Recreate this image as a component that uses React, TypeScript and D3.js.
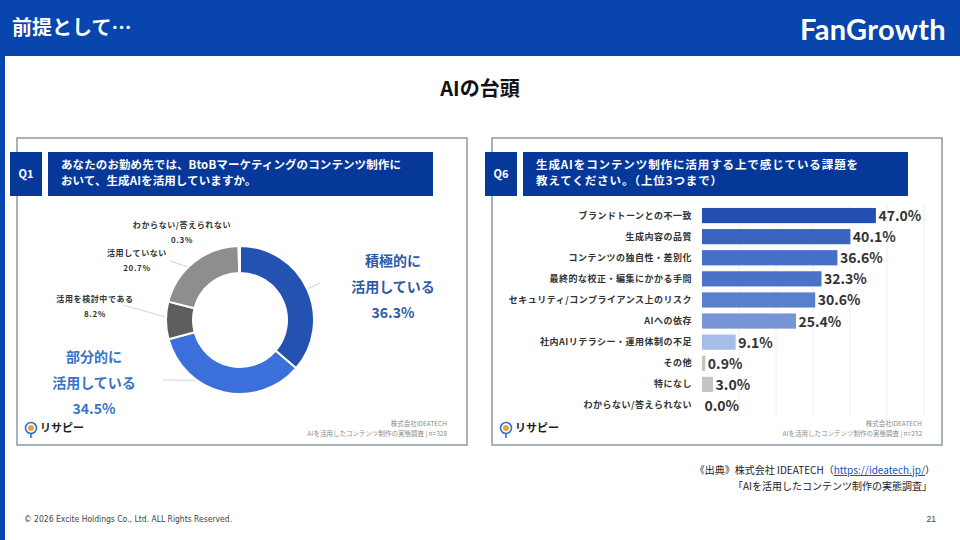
import React from 'react';
import * as d3 from 'd3';

// Q1: generative AI usage (donut, clockwise from 12 o'clock)
const donutCategories = ['積極的に活用している', '部分的に活用している', '活用を検討中である', '活用していない', 'わからない/答えられない'];
const donutValues = [36.3, 34.5, 8.2, 20.7, 0.3];
const donutColors = ['#2452b2', '#3b6fd9', '#5e5e5e', '#8e8e8e', '#d8d8d8'];

// Q6: challenges of using generative AI (horizontal bars)
const barCategories = [
  'ブランドトーンとの不一致',
  '生成内容の品質',
  'コンテンツの独自性・差別化',
  '最終的な校正・編集にかかる手間',
  'セキュリティ/コンプライアンス上のリスク',
  'AIへの依存',
  '社内AIリテラシー・運用体制の不足',
  'その他',
  '特になし',
  'わからない/答えられない',
];
const barValues = [47.0, 40.1, 36.6, 32.3, 30.6, 25.4, 9.1, 0.9, 3.0, 0.0];
const barColors = ['#2350b0', '#3a64c0', '#4670c6', '#4a73c8', '#5a80cc', '#7896d4', '#a7bce6', '#c4c4c4', '#c4c4c4', '#c4c4c4'];
const gridTicks = [10, 20, 30, 40, 50, 60];

const JP = '"Noto Sans CJK JP", "Noto Sans", sans-serif';
const BLUE = '#0845ac';
const QBLUE = '#06389a';

function Logo({ x, y }: { x: number; y: number }) {
  return (
    <g transform={`translate(${x},${y})`}>
      <circle cx={0} cy={-4} r={5.5} fill="#fff" stroke="#2f6fd0" strokeWidth={1.6} />
      <circle cx={0} cy={-4} r={3} fill="#f0a030" />
      <line x1={0} y1={1.5} x2={0} y2={6} stroke="#2f6fd0" strokeWidth={1.6} />
      <text x={9} y={0} fontFamily={JP} fontWeight={700} fontSize={11} fill="#222">リサピー</text>
    </g>
  );
}

function Panel({ x, y, w, h, q, lines, n, ls }: { x: number; y: number; w: number; h: number; q: string; lines: string[]; n: number; ls: number }) {
  return (
    <g>
      <rect x={x} y={y} width={w} height={h} fill="#fff" stroke="#8d9aa6" strokeWidth={1.5} />
      <rect x={x - 7} y={y + 14} width={32} height={44} fill={QBLUE} />
      <text x={x + 9} y={y + 40} textAnchor="middle" fontFamily={JP} fontWeight={700} fontSize={11} fill="#fff">{q}</text>
      <rect x={x + 31} y={y + 14} width={w - 65} height={44} fill={QBLUE} />
      {lines.map((t, i) => (
        <text key={i} x={x + 44} y={y + 31 + i * 16} fontFamily={JP} fontWeight={700} fontSize={11.5} letterSpacing={ls} fill="#fff">{t}</text>
      ))}
      <text x={x + w - 20} y={y + 288} textAnchor="end" fontFamily={JP} fontSize={6.5} fill="#8a8a8a">株式会社IDEATECH</text>
      <text x={x + w - 20} y={y + 298} textAnchor="end" fontFamily={JP} fontSize={6.5} fill="#8a8a8a">{`AIを活用したコンテンツ制作の実態調査 | n=${n}`}</text>
      <Logo x={x + 14} y={y + 294} />
    </g>
  );
}

function Donut() {
  const cx = 240, cy = 320, outer = 74, inner = 47;
  const pie = d3.pie<number>().sort(null).value((d) => d);
  const arcs = pie(donutValues);
  const arc = d3.arc<d3.PieArcDatum<number>>().innerRadius(inner).outerRadius(outer);
  const pointAt = (a: d3.PieArcDatum<number>, r: number) => {
    const m = (a.startAngle + a.endAngle) / 2;
    return [cx + r * Math.sin(m), cy - r * Math.cos(m)];
  };
  // leader lines: from a point inside each segment out to its label
  const leaders: [number, number, number][] = [
    [0, 320, 283],
    [1, 163, 380],
    [2, 123, 305],
    [3, 170, 261],
  ];
  return (
    <g>
      {leaders.map(([i, lx, ly]) => {
        const [px, py] = pointAt(arcs[i], outer - 12);
        return <line key={i} x1={px} y1={py} x2={lx} y2={ly} stroke="#d4d4d4" strokeWidth={1} />;
      })}
      <g transform={`translate(${cx},${cy})`}>
        {arcs.map((a, i) => (
          <path key={i} d={arc(a) || ''} fill={donutColors[i]} stroke="#fff" strokeWidth={2} />
        ))}
      </g>
      {/* large labels */}
      <g fontFamily={JP} fontWeight={700} fontSize={14} fill="#2d5aa8" textAnchor="middle">
        <text x={393} y={266}>積極的に</text>
        <text x={393} y={292}>活用している</text>
        <text x={393} y={318}>{`${donutValues[0].toFixed(1)}%`}</text>
      </g>
      <g fontFamily={JP} fontWeight={700} fontSize={14} fill="#3a73c4" textAnchor="middle">
        <text x={94} y={362}>部分的に</text>
        <text x={94} y={388}>活用している</text>
        <text x={94} y={414}>{`${donutValues[1].toFixed(1)}%`}</text>
      </g>
      {/* small labels */}
      <g fontFamily={JP} fontWeight={700} fontSize={8} letterSpacing={0.6} fill="#333" textAnchor="middle">
        <text x={182} y={228}>{donutCategories[4]}</text>
        <text x={182} y={243}>{`${donutValues[4].toFixed(1)}%`}</text>
        <text x={137} y={256}>{donutCategories[3]}</text>
        <text x={137} y={271}>{`${donutValues[3].toFixed(1)}%`}</text>
        <text x={95} y={302}>{donutCategories[2]}</text>
        <text x={95} y={317}>{`${donutValues[2].toFixed(1)}%`}</text>
      </g>
    </g>
  );
}

function Bars() {
  const x = d3.scaleLinear().domain([0, 60]).range([702, 924]);
  const y = d3.scaleBand<string>().domain(barCategories).range([205, 416]).paddingInner(0.28).paddingOuter(0.14);
  return (
    <g>
      {gridTicks.map((t) => (
        <line key={t} x1={x(t)} x2={x(t)} y1={205} y2={416} stroke="#eceef2" strokeWidth={1} />
      ))}
      {barCategories.map((c, i) => {
        const yy = y(c) as number;
        const bh = y.bandwidth();
        return (
          <g key={c}>
            <text x={692} y={yy + bh / 2 + 3} textAnchor="end" fontFamily={JP} fontWeight={700} fontSize={9} letterSpacing={0.5} fill="#333">{c}</text>
            <rect x={x(0)} y={yy} width={x(barValues[i]) - x(0)} height={bh} fill={barColors[i]} />
            <text x={x(barValues[i]) + 2.5} y={yy + bh / 2 + 5.5} fontFamily={JP} fontWeight={700} fontSize={14} fill="#333">{`${barValues[i].toFixed(1)}%`}</text>
          </g>
        );
      })}
    </g>
  );
}

export default function App() {
  return (
    <svg width={960} height={540} style={{ position: 'absolute', left: 0, top: 0, display: 'block' }}>
      <rect x={0} y={0} width={960} height={540} fill="#fff" />
      <rect x={0} y={0} width={960} height={56} fill={BLUE} />
      <rect x={0} y={56} width={5} height={484} fill={BLUE} />
      <text x={12} y={35} fontFamily={JP} fontWeight={700} fontSize={20} fill="#fff">前提として…</text>
      <text x={946} y={40} textAnchor="end" fontFamily='Lato, "Noto Sans", sans-serif' fontWeight={700} fontSize={29} fill="#fff" letterSpacing={0.3}>FanGrowth</text>

      <text x={480} y={96} textAnchor="middle" fontFamily={JP} fontWeight={700} fontSize={20} fill="#111">AIの台頭</text>

      <Panel x={17} y={138} w={450} h={307} q="Q1" n={328} ls={0.1}
        lines={['あなたのお勤め先では、BtoBマーケティングのコンテンツ制作に', 'おいて、生成AIを活用していますか。']} />
      <Panel x={492} y={138} w={450} h={307} q="Q6" n={232} ls={0.9}
        lines={['生成AIをコンテンツ制作に活用する上で感じている課題を', '教えてください。（上位3つまで）']} />

      <Donut />
      <Bars />

      <g fontFamily={JP} fontSize={10} fill="#222" textAnchor="end">
        <text x={935} y={474}>
          《出典》株式会社 IDEATECH（
          <tspan fill="#1a4fc4" textDecoration="underline">https://ideatech.jp/</tspan>）
        </text>
        <text x={932} y={490}>「AIを活用したコンテンツ制作の実態調査」</text>
      </g>

      <text x={24} y={522} fontFamily='"Liberation Sans Narrow", "DejaVu Sans Condensed", sans-serif' fontSize={8.5} fill="#444">© 2026 Excite Holdings Co., Ltd. ALL Rights Reserved.</text>
      <text x={936} y={522} textAnchor="end" fontFamily='"Liberation Sans Narrow", sans-serif' fontSize={8.5} fill="#444">21</text>
    </svg>
  );
}
